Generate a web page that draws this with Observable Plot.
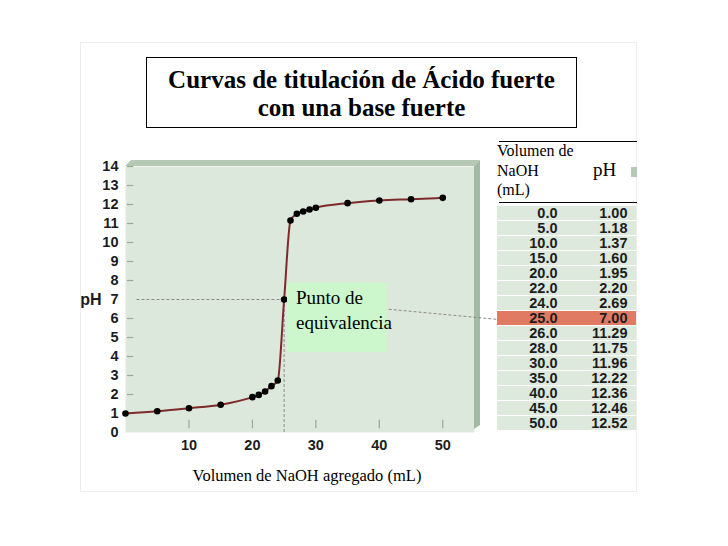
<!DOCTYPE html>
<html>
<head>
<meta charset="utf-8">
<script src="https://cdn.jsdelivr.net/npm/d3@7"></script>
<script src="https://cdn.jsdelivr.net/npm/@observablehq/plot@0.6"></script>
<style>
  html, body { margin: 0; padding: 0; background: #fff; }
  body { width: 728px; height: 546px; position: relative; overflow: hidden; font-family: "Liberation Serif", "Times New Roman", serif; }
  #outer { position: absolute; left: 80px; top: 42px; width: 557px; height: 450px; border: 1px solid #f1ecec; box-sizing: border-box; }
  #chart { position: absolute; left: 0; top: 0; }
  #title { position: absolute; left: 146px; top: 57px; width: 431px; height: 71px; box-sizing: border-box; border: 1.5px solid #000; background: #fff;
           text-align: center; font-weight: bold; font-size: 25px; line-height: 28px; padding-top: 8px; color: #000; }
  #label { position: absolute; left: 287px; top: 283px; width: 100px; height: 69px; background: #ccf7cc; box-sizing: border-box;
           padding: 2px 0 0 9px; font-size: 19px; line-height: 25px; color: #000; white-space: nowrap; }
  .hline { position: absolute; left: 499px; width: 138px; height: 0; border-top: 1px solid #000; }
  #hvol { position: absolute; left: 497px; top: 141px; font-size: 16px; line-height: 19.5px; color: #000; }
  #hph { position: absolute; left: 593px; top: 159px; font-size: 19px; line-height: 22px; color: #000; }
  #hsq { position: absolute; left: 631px; top: 167px; width: 6px; height: 10px; background: #b8c8b8; }
  #table { position: absolute; left: 497px; top: 204px; }
</style>
</head>
<body>
<div id="outer"></div>
<div id="chart"></div>
<div id="title">Curvas de titulación de Ácido fuerte<br>con una base fuerte</div>
<div class="hline" style="top:141px"></div>
<div class="hline" style="top:202px"></div>
<div id="hvol">Volumen de<br>NaOH<br>(mL)</div>
<div id="hph">pH</div>
<div id="hsq"></div>
<div id="table"></div>
<div id="label">Punto de<br>equivalencia</div>
<script>
// ---- data ----
const volume = [0, 5, 10, 15, 20, 21, 22, 23, 24, 25, 26, 27, 28, 29, 30, 35, 40, 45, 50];
const pH     = [1.00, 1.12, 1.28, 1.46, 1.86, 1.98, 2.16, 2.44, 2.74, 7.00, 11.16, 11.51, 11.63, 11.74, 11.83, 12.07, 12.21, 12.28, 12.35];
const yTicks = [0, 1, 2, 3, 4, 5, 6, 7, 8, 9, 10, 11, 12, 13, 14];
const xTicks = [10, 20, 30, 40, 50];
const equivalence = [{vol: 25, ph: 7}];
const connectorEnd = [{vol: 58.7, ph: 5.95}];   // where the dashed leader meets the table row
const tableVol = ["0.0","5.0","10.0","15.0","20.0","22.0","24.0","25.0","26.0","28.0","30.0","35.0","40.0","45.0","50.0"];
const tablePH  = ["1.00","1.18","1.37","1.60","1.95","2.20","2.69","7.00","11.29","11.75","11.96","12.22","12.36","12.46","12.52"];
const highlightVol = "25.0";
const xTitle = "Volumen de NaOH agregado (mL)";
const yTitle = "pH";

const curve = volume.map((v, i) => ({vol: v, ph: pH[i]}));
const sans = "Liberation Sans, Arial, Helvetica, sans-serif";

// bevelled panel edges (decoration)
function bevel(index, scales, values, dims) {
  const l = dims.marginLeft, r = dims.width - dims.marginRight;
  const t = dims.marginTop, b = dims.height - dims.marginBottom;
  const g = d3.create("svg:g");
  g.append("polygon").attr("points", `${l},${t} ${l+6},${t-6} ${r+6},${t-6} ${r},${t}`).attr("fill", "#b6c9b5");
  g.append("polygon").attr("points", `${r},${t} ${r+6},${t-6} ${r+6},${b-7} ${r},${b-3}`).attr("fill", "#a2baa2");
  return g.node();
}

const chart = Plot.plot({
  width: 728, height: 546,
  marginLeft: 125, marginRight: 254, marginTop: 166, marginBottom: 114,
  style: {fontFamily: sans, fontSize: "14px", color: "#1c1c1c", background: "transparent", overflow: "visible"},
  x: {domain: [0, 55]},
  y: {domain: [0, 14]},
  marks: [
    Plot.frame({fill: "#dde8dc", stroke: "none"}),
    bevel,
    Plot.ruleY(yTicks.filter(d => d > 0 && d !== 7), {y: d => d, x1: 0.3, x2: 1.3, stroke: "#9aa89a", strokeWidth: 1.2}),
    Plot.ruleX(xTicks, {x: d => d, y1: 0.2, y2: 0.65, stroke: "#9aa89a", strokeWidth: 1.2}),
    Plot.ruleY(equivalence, {y: "ph", x1: 1.8, x2: "vol", stroke: "#8a8a8a", strokeDasharray: "3,2"}),
    Plot.ruleX(equivalence, {x: "vol", y1: 0, y2: "ph", stroke: "#8a8a8a", strokeDasharray: "3,2"}),
    Plot.link(equivalence, {x1: "vol", y1: "ph", x2: () => connectorEnd[0].vol, y2: () => connectorEnd[0].ph, stroke: "#8a8a8a", strokeDasharray: "3,2"}),
    Plot.line(curve, {x: "vol", y: "ph", curve: "monotone-x", stroke: "#7e2a2a", strokeWidth: 2}),
    Plot.dot(curve, {x: "vol", y: "ph", r: 3.3, fill: "#000", stroke: "none"}),
    Plot.axisY({ticks: yTicks, tickSize: 0, tickPadding: 7, fontWeight: "bold", fontSize: 14.5, label: null}),
    Plot.axisX({ticks: xTicks, tickSize: 0, tickPadding: 7, fontWeight: "bold", fontSize: 14.5, label: null}),
    Plot.text([yTitle], {y: () => 7, frameAnchor: "left", text: d => d, textAnchor: "end", dx: -24, fontWeight: "bold", fontSize: 16}),
    Plot.text([xTitle], {frameAnchor: "bottom", text: d => d, dx: 7, dy: 48, fontFamily: "Liberation Serif, Times New Roman, serif", fontSize: 16.5, fill: "#000"})
  ]
});
document.getElementById("chart").append(chart);

const rows = tableVol.map((v, i) => ({i, vol: v, ph: tablePH[i], hl: v === highlightVol}));
const table = Plot.plot({
  width: 139, height: 228, margin: 0,
  style: {fontFamily: sans, fontSize: "14px", color: "#1c1c1c", background: "transparent"},
  color: {type: "identity"},
  y: {type: "band", domain: rows.map(d => d.i), axis: null, paddingInner: 0.08, paddingOuter: 0.04},
  marks: [
    Plot.cell(rows, {y: "i", fill: d => d.hl ? "#e07a63" : "#dce9dc"}),
    Plot.text(rows, {y: "i", text: "vol", frameAnchor: "right", textAnchor: "end", dx: -79, fontWeight: "bold", fontSize: 14.5}),
    Plot.text(rows, {y: "i", text: "ph", frameAnchor: "right", textAnchor: "end", dx: -9, fontWeight: "bold", fontSize: 14.5})
  ]
});
document.getElementById("table").append(table);
</script>
</body>
</html>
